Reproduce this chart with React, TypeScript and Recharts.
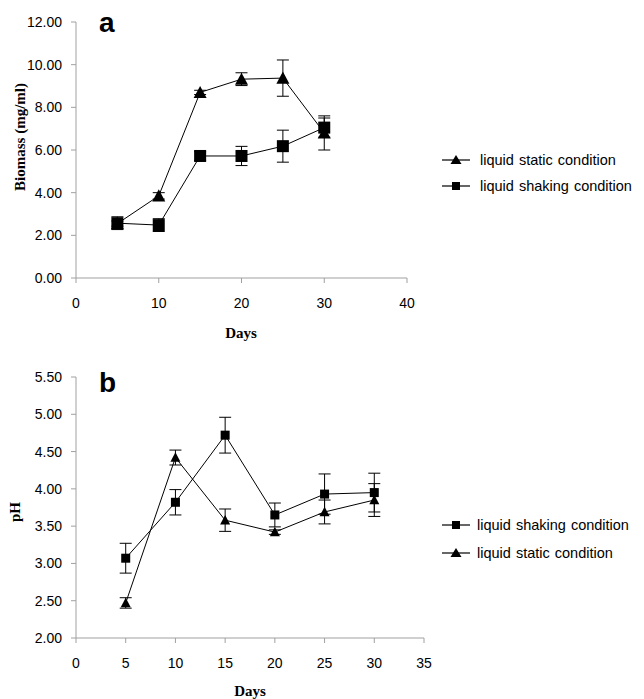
import React from "react";
import { LineChart, Line, XAxis, YAxis, ErrorBar, Label } from "recharts";

const days = [5, 10, 15, 20, 25, 30];

// panel a: biomass (mg/ml)
const staticBiomass = [2.55, 3.85, 8.7, 9.32, 9.37, 6.8];
const staticBiomassErr = [0.12, 0.15, 0.1, 0.3, 0.85, 0.8];
const shakingBiomass = [2.57, 2.48, 5.72, 5.72, 6.18, 7.05];
const shakingBiomassErr = [0.3, 0.3, 0.2, 0.45, 0.75, 0.45];
const biomassTicks = [0, 2, 4, 6, 8, 10, 12];
const biomassDayTicks = [0, 10, 20, 30, 40];

// panel b: pH
const shakingPH = [3.07, 3.82, 4.72, 3.65, 3.93, 3.95];
const shakingPHErr = [0.2, 0.17, 0.24, 0.16, 0.27, 0.26];
const staticPH = [2.47, 4.42, 3.58, 3.42, 3.69, 3.85];
const staticPHErr = [0.07, 0.1, 0.15, 0.03, 0.16, 0.22];
const phTicks = [2, 2.5, 3, 3.5, 4, 4.5, 5, 5.5];
const phDayTicks = [0, 5, 10, 15, 20, 25, 30, 35];

const biomassData = days.map((d, i) => ({
  day: d,
  stat: staticBiomass[i],
  statErr: staticBiomassErr[i],
  shak: shakingBiomass[i],
  shakErr: shakingBiomassErr[i],
}));

const phData = days.map((d, i) => ({
  day: d,
  stat: staticPH[i],
  statErr: staticPHErr[i],
  shak: shakingPH[i],
  shakErr: shakingPHErr[i],
}));

const AXIS = "#a0a0a0";
const SANS = "'Liberation Sans', Arial, sans-serif";
const SERIF = "'Liberation Serif', 'Times New Roman', serif";

const tri = (s: number) => (props: any) => {
  const { cx, cy, key } = props;
  if (cx == null || cy == null) return <g key={key} />;
  const h = s * 0.85;
  return (
    <polygon
      key={key}
      points={`${cx},${cy - h / 2 - 1} ${cx - s / 2},${cy + h / 2} ${cx + s / 2},${cy + h / 2}`}
      fill="#000"
    />
  );
};

const sq = (s: number) => (props: any) => {
  const { cx, cy, key } = props;
  if (cx == null || cy == null) return <g key={key} />;
  return <rect key={key} x={cx - s / 2} y={cy - s / 2} width={s} height={s} fill="#000" />;
};

const tickStyle = { fill: "#000", fontSize: 14, fontFamily: SANS };

const LegendRow = ({ y, x, textX, marker, text }: any) => (
  <g>
    <line x1={x} x2={x + 28} y1={y} y2={y} stroke="#000" strokeWidth={1.2} />
    {marker === "tri" ? (
      <polygon points={`${x + 14},${y - 5} ${x + 8.5},${y + 4} ${x + 19.5},${y + 4}`} fill="#000" />
    ) : (
      <rect x={x + 10} y={y - 4} width={8} height={8} fill="#000" />
    )}
    <text x={textX} y={y + 5} fontSize={14.5} fontFamily={SANS} fill="#000" wordSpacing={1}>
      {text}
    </text>
  </g>
);

export default function App() {
  return (
    <div style={{ position: "absolute", left: 0, top: 0, width: 644, height: 699, background: "#fff" }}>
      <div style={{ position: "absolute", left: 0, top: 0 }}>
        <LineChart width={644} height={350} data={biomassData} margin={{ top: 22, right: 237, bottom: 22, left: 0 }}>
          <XAxis
            dataKey="day"
            type="number"
            domain={[0, 40]}
            ticks={biomassDayTicks}
            stroke={AXIS}
            tick={tickStyle}
            tickSize={5}
            tickMargin={15}
            height={50}
          >
            <Label
              content={() => (
                <text x={241} y={338} textAnchor="middle" fontSize={15} fontWeight="bold" fontFamily={SERIF} fill="#000">
                  Days
                </text>
              )}
            />
          </XAxis>
          <YAxis
            type="number"
            domain={[0, 12]}
            ticks={biomassTicks}
            tickFormatter={(v) => v.toFixed(2)}
            stroke={AXIS}
            tick={tickStyle}
            tickSize={5}
            tickMargin={9}
            width={76}
          >
            <Label
              content={() => (
                <text x={25} y={137} transform="rotate(-90 25 137)" textAnchor="middle" fontSize={15} fontWeight="bold" fontFamily={SERIF} fill="#000">
                  Biomass (mg/ml)
                </text>
              )}
            />
          </YAxis>
          <Line dataKey="stat" stroke="#000" strokeWidth={1} dot={tri(13)} isAnimationActive={false}>
            <ErrorBar dataKey="statErr" direction="y" width={6} stroke="#000" strokeWidth={1} />
          </Line>
          <Line dataKey="shak" stroke="#000" strokeWidth={1} dot={sq(12)} isAnimationActive={false}>
            <ErrorBar dataKey="shakErr" direction="y" width={6} stroke="#000" strokeWidth={1} />
          </Line>
        </LineChart>
      </div>
      <div style={{ position: "absolute", left: 0, top: 350 }}>
        <LineChart width={644} height={349} data={phData} margin={{ top: 27, right: 220, bottom: 11, left: 0 }}>
          <XAxis
            dataKey="day"
            type="number"
            domain={[0, 35]}
            ticks={phDayTicks}
            stroke={AXIS}
            tick={tickStyle}
            tickSize={5}
            tickMargin={15}
            height={50}
          >
            <Label
              content={() => (
                <text x={250} y={346} textAnchor="middle" fontSize={15} fontWeight="bold" fontFamily={SERIF} fill="#000">
                  Days
                </text>
              )}
            />
          </XAxis>
          <YAxis
            type="number"
            domain={[2, 5.5]}
            ticks={phTicks}
            tickFormatter={(v) => v.toFixed(2)}
            stroke={AXIS}
            tick={tickStyle}
            tickSize={5}
            tickMargin={9}
            width={76}
          >
            <Label
              content={() => (
                <text x={20} y={162} transform="rotate(-90 20 162)" textAnchor="middle" fontSize={15} fontWeight="bold" fontFamily={SERIF} fill="#000">
                  pH
                </text>
              )}
            />
          </YAxis>
          <Line dataKey="stat" stroke="#000" strokeWidth={1} dot={tri(10)} isAnimationActive={false}>
            <ErrorBar dataKey="statErr" direction="y" width={6} stroke="#000" strokeWidth={1} />
          </Line>
          <Line dataKey="shak" stroke="#000" strokeWidth={1} dot={sq(9)} isAnimationActive={false}>
            <ErrorBar dataKey="shakErr" direction="y" width={6} stroke="#000" strokeWidth={1} />
          </Line>
        </LineChart>
      </div>
      <div style={{ position: "absolute", left: 99, top: 7, lineHeight: "32px", fontFamily: SANS, fontWeight: "bold", fontSize: 28 }}>a</div>
      <div style={{ position: "absolute", left: 99, top: 367, lineHeight: "32px", fontFamily: SANS, fontWeight: "bold", fontSize: 28 }}>b</div>
      <svg style={{ position: "absolute", left: 0, top: 0 }} width={644} height={699} pointerEvents="none">
        <LegendRow y={160} x={442} textX={480} marker="tri" text="liquid static condition" />
        <LegendRow y={186} x={442} textX={480} marker="sq" text="liquid shaking condition" />
        <LegendRow y={525} x={442} textX={477} marker="sq" text="liquid shaking condition" />
        <LegendRow y={553} x={442} textX={477} marker="tri" text="liquid static condition" />
      </svg>
    </div>
  );
}
